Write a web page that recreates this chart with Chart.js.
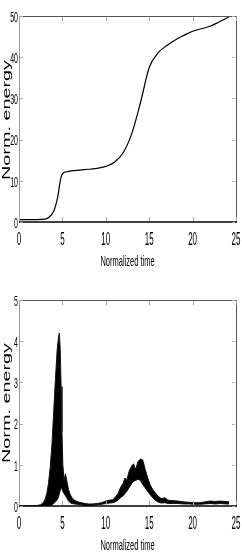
<!DOCTYPE html>
<html>
<head>
<meta charset="utf-8">
<script src="https://cdn.jsdelivr.net/npm/chart.js@4/dist/chart.umd.min.js"></script>
<style>
  html, body { margin: 0; padding: 0; background: #fff; }
  .panel { position: absolute; left: 0; }
</style>
</head>
<body>
<canvas class="panel js-top" width="242" height="280" style="top:0"></canvas>
<canvas class="panel js-bottom" width="242" height="277" style="top:280px"></canvas>
<script>
// shared axis
const X_TICKS = [0, 5, 10, 15, 20, 25];
const X_TITLE = "Normalized time";
const Y_TITLE = "Norm. energy";

// top panel: accumulated energy
const TOP_Y_TICKS = [0, 10, 20, 30, 40, 50];
const topTime = [0, 1, 2, 3, 3.5, 4, 4.25, 4.5, 4.75, 5, 5.5, 6, 7, 8, 9, 10, 11, 12, 13, 14, 15, 16, 17, 18, 19, 20, 21, 22, 23, 24, 24.3];
const topEnergy = [0.6, 0.6, 0.6, 0.7, 1.2, 2.6, 4.2, 6.5, 10, 11.7, 12.2, 12.4, 12.6, 12.8, 13, 13.5, 14.5, 16.8, 21.5, 29, 37.5, 41, 42.8, 44.2, 45.3, 46.3, 46.9, 47.5, 48.5, 49.6, 50];

// bottom panel: instantaneous energy (upper / lower envelope of the band)
const BOTTOM_Y_TICKS = [0, 1, 2, 3, 4, 5];
const bottomTime = [0, 1, 2, 2.5, 2.8, 3, 3.2, 3.4, 3.6, 3.8, 4, 4.2, 4.4, 4.55, 4.65, 4.75, 4.85, 4.95, 5.05, 5.2, 5.35, 5.5, 5.7, 5.9, 6.1, 6.4, 6.8, 7.2, 7.6, 8, 8.5, 9, 9.5, 10, 10.4, 10.8, 11.1, 11.4, 11.7, 12, 12.2, 12.4, 12.7, 13, 13.2, 13.45, 13.7, 14, 14.25, 14.5, 14.8, 15.1, 15.4, 15.7, 16, 16.4, 16.8, 17.2, 17.8, 18.3, 19, 19.6, 20.2, 20.8, 21.4, 22, 22.6, 23.2, 23.8, 24.2];
const bottomUpper = [0, 0, 0.01, 0.03, 0.08, 0.16, 0.3, 0.55, 0.95, 1.5, 2.3, 3.1, 3.8, 4.1, 4.2, 3.8, 2.9, 1.8, 1.0, 0.62, 0.78, 0.62, 0.4, 0.28, 0.2, 0.14, 0.1, 0.08, 0.06, 0.05, 0.05, 0.06, 0.08, 0.12, 0.14, 0.15, 0.22, 0.3, 0.45, 0.55, 0.68, 0.62, 0.85, 0.98, 1.02, 0.88, 1.08, 1.14, 1.12, 0.92, 0.7, 0.52, 0.4, 0.32, 0.24, 0.18, 0.2, 0.14, 0.13, 0.12, 0.1, 0.09, 0.08, 0.08, 0.1, 0.12, 0.11, 0.12, 0.11, 0.1];
const bottomLower = [0, 0, 0, 0, 0, 0, 0, 0, 0.01, 0.03, 0.06, 0.1, 0.15, 0.22, 0.3, 0.38, 0.45, 0.42, 0.35, 0.3, 0.25, 0.2, 0.12, 0.08, 0.06, 0.05, 0.04, 0.03, 0.02, 0.02, 0.02, 0.03, 0.04, 0.06, 0.07, 0.08, 0.1, 0.14, 0.2, 0.25, 0.3, 0.35, 0.45, 0.55, 0.6, 0.62, 0.65, 0.62, 0.52, 0.45, 0.36, 0.28, 0.2, 0.14, 0.1, 0.07, 0.08, 0.06, 0.06, 0.06, 0.05, 0.05, 0.04, 0.04, 0.05, 0.06, 0.05, 0.06, 0.05, 0.05];

const toPoints = (xs, ys) => xs.map((x, i) => ({ x, y: ys[i] }));

// text squeezed like the resized matlab figure
function drawText(ctx, text, x, y, size, stretchY, align, baseline) {
  ctx.save();
  ctx.translate(x, y);
  ctx.scale(1, stretchY);
  ctx.font = size + 'px "Liberation Sans", Arial, sans-serif';
  ctx.fillStyle = "#000";
  ctx.textAlign = align;
  ctx.textBaseline = baseline;
  ctx.fillText(text, 0, 0);
  ctx.restore();
}

const matlabAxes = {
  id: "matlabAxes",
  afterDraw(chart, args, opts) {
    const { ctx, chartArea: a, scales: { x, y } } = chart;
    ctx.save();
    // frame
    ctx.lineWidth = 1;
    ctx.strokeStyle = "#555";
    ctx.beginPath();
    ctx.moveTo(a.left, a.top + 0.5);
    ctx.lineTo(a.right + 0.5, a.top + 0.5);
    ctx.lineTo(a.right + 0.5, a.bottom);
    ctx.stroke();
    ctx.strokeStyle = "#999";
    ctx.beginPath();
    ctx.moveTo(a.left + 0.5, a.top);
    ctx.lineTo(a.left + 0.5, a.bottom);
    ctx.stroke();
    ctx.strokeStyle = "#000";
    ctx.lineWidth = 1.5;
    ctx.beginPath();
    ctx.moveTo(a.left, a.bottom);
    ctx.lineTo(a.right + 1, a.bottom);
    ctx.stroke();

    // tick marks
    ctx.strokeStyle = "#aaa";
    ctx.lineWidth = 1;
    X_TICKS.forEach((v) => {
      const px = Math.round(x.getPixelForValue(v)) + 0.5;
      ctx.beginPath();
      ctx.moveTo(px, a.bottom - 1);
      ctx.lineTo(px, a.bottom - 5);
      ctx.moveTo(px, a.top + 1);
      ctx.lineTo(px, a.top + 5);
      ctx.stroke();
      drawText(ctx, String(v), x.getPixelForValue(v), a.bottom + 18, 8, 2.3, "center", "middle");
    });
    opts.yTicks.forEach((v) => {
      const py = Math.round(y.getPixelForValue(v)) + 0.5;
      ctx.beginPath();
      ctx.moveTo(a.left + 1, py);
      ctx.lineTo(a.left + 4, py);
      ctx.moveTo(a.right - 1, py);
      ctx.lineTo(a.right - 4, py);
      ctx.stroke();
      drawText(ctx, String(v), a.left - 1, y.getPixelForValue(v) + 2, 7, 2.0, "right", "middle");
    });

    // titles
    drawText(ctx, X_TITLE, (a.left + a.right) / 2, a.bottom + 40, 7.5, 1.85, "center", "middle");
    ctx.save();
    ctx.translate(10, opts.yTitleAt);
    ctx.rotate(-Math.PI / 2);
    ctx.scale(1.8, 1);
    ctx.font = '11px "Liberation Sans", Arial, sans-serif';
    ctx.fillStyle = "#000";
    ctx.textAlign = "center";
    ctx.textBaseline = "alphabetic";
    ctx.fillText(Y_TITLE, 0, 0);
    ctx.restore();
    ctx.restore();
  },
};

function axesOptions(yMax, padding) {
  return {
    responsive: false,
    animation: false,
    layout: { padding },
    plugins: { legend: { display: false }, tooltip: { enabled: false } },
    scales: {
      x: { type: "linear", min: 0, max: 25, display: false },
      y: { type: "linear", min: 0, max: yMax, display: false },
    },
  };
}

new Chart(document.querySelector(".js-top").getContext("2d"), {
  type: "line",
  data: {
    datasets: [
      {
        data: toPoints(topTime, topEnergy),
        borderColor: "#000",
        borderWidth: 1.2,
        pointRadius: 0,
        cubicInterpolationMode: "monotone",
        fill: false,
      },
    ],
  },
  options: Object.assign(axesOptions(50, { left: 19, right: 6, top: 16, bottom: 58 }), {
    plugins: { legend: { display: false }, tooltip: { enabled: false }, matlabAxes: { yTicks: TOP_Y_TICKS, yTitleAt: 120 } },
  }),
  plugins: [matlabAxes],
});

new Chart(document.querySelector(".js-bottom").getContext("2d"), {
  type: "line",
  data: {
    datasets: [
      {
        data: toPoints(bottomTime, bottomUpper),
        borderColor: "#111",
        borderWidth: 1,
        pointRadius: 0,
        fill: false,
      },
      {
        data: toPoints(bottomTime, bottomLower),
        borderColor: "#111",
        borderWidth: 1,
        pointRadius: 0,
        backgroundColor: "#000",
        fill: "-1",
      },
    ],
  },
  options: Object.assign(axesOptions(5, { left: 19, right: 6, top: 20, bottom: 51 }), {
    plugins: { legend: { display: false }, tooltip: { enabled: false }, matlabAxes: { yTicks: BOTTOM_Y_TICKS, yTitleAt: 123 } },
  }),
  plugins: [matlabAxes],
});
</script>
</body>
</html>
